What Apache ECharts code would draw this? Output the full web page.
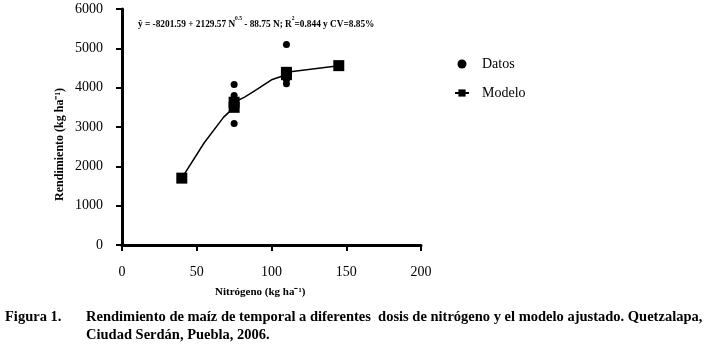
<!DOCTYPE html>
<html>
<head>
<meta charset="utf-8">
<script src="https://cdn.jsdelivr.net/npm/echarts@6/dist/echarts.min.js"></script>
<style>
  html, body { margin: 0; padding: 0; background: #fff; }
  #chart { width: 710px; height: 345px; }
</style>
</head>
<body>
<div id="chart"></div>
<script>
const datosN = [75, 75, 75, 75, 75, 110, 110, 110, 110, 145]
const datosY = [4080, 3800, 3090, 3600, 3500, 5100, 4100, 4200, 4300, 4570]

// fitted model curve (Modelo); squares only where marked
const modeloN = [40, 55, 68, 75, 75, 82, 90, 100, 110, 110, 145]
const modeloY = [1700, 2600, 3250, 3500, 3630, 3760, 3950, 4200, 4330, 4390, 4560]
const modeloSquare = [true, false, false, true, true, false, false, false, true, true, true]

const xTicks = { min: 0, max: 200, interval: 50 }
const yTicks = { min: 0, max: 6000, interval: 1000 }

const SERIF = '"Liberation Serif", "Times New Roman", serif'

const chart = echarts.init(document.getElementById('chart'))

const axisCommon = {
  axisLine: { show: true, onZero: false, lineStyle: { color: '#000', width: 3 } },
  axisTick: { show: true, inside: false, length: 6, lineStyle: { color: '#000', width: 2 } },
  axisLabel: { color: '#000', fontFamily: SERIF, fontSize: 14, formatter: (v) => String(v) },
  splitLine: { show: false },
}

chart.setOption({
  animation: false,
  backgroundColor: '#fff',
  textStyle: { fontFamily: SERIF, color: '#000' },
  grid: { left: 122, right: 289, top: 9, bottom: 100 },
  legend: {
    orient: 'vertical',
    left: 449,
    top: 52,
    itemGap: 15,
    itemWidth: 14,
    itemHeight: 9,
    textStyle: { fontFamily: SERIF, fontSize: 14, color: '#000', padding: [0, 0, 0, 8] },
    data: [
      { name: 'Datos', icon: 'circle' },
      { name: 'Modelo' },
    ],
  },
  xAxis: {
    type: 'value',
    ...xTicks,
    ...axisCommon,
    axisLabel: { ...axisCommon.axisLabel, margin: 20 },
  },
  yAxis: {
    type: 'value',
    ...yTicks,
    ...axisCommon,
    axisLabel: { ...axisCommon.axisLabel, margin: 19 },
  },
  series: [
    {
      name: 'Modelo',
      type: 'line',
      z: 3,
      symbol: 'rect',
      symbolSize: 11,
      showAllSymbol: true,
      lineStyle: { color: '#000', width: 1.5 },
      itemStyle: { color: '#000' },
      data: modeloN.map((n, i) => ({
        value: [n, modeloY[i]],
        symbol: modeloSquare[i] ? 'rect' : 'none',
      })),
    },
    {
      name: 'Datos',
      type: 'scatter',
      z: 2,
      symbol: 'circle',
      symbolSize: 7,
      itemStyle: { color: '#000', opacity: 1 },
      data: datosN.map((n, i) => [n, datosY[i]]),
    },
  ],
  graphic: [
    {
      type: 'text', left: 138, top: 16,
      style: {
        text: '{b|ŷ = -8201.59 + 2129.57 N}{s|0.5}{b| - 88.75 N; R}{s|2}{b|=0.844 y CV=8.85%}',
        rich: {
          b: { fontFamily: SERIF, fontWeight: 'bold', fontSize: 9.3, lineHeight: 13, verticalAlign: 'bottom', fill: '#000' },
          s: { fontFamily: SERIF, fontWeight: 'bold', fontSize: 5.5, lineHeight: 13, verticalAlign: 'top', fill: '#000' },
        },
      },
    },
    {
      type: 'text', left: 54, top: 88,
      rotation: Math.PI / 2,
      style: {
        text: 'Rendimiento (kg ha⁻¹)',
        fontFamily: SERIF, fontWeight: 'bold', fontSize: 12, fill: '#000',
      },
    },
    {
      type: 'text', left: 215, top: 287,
      style: {
        text: 'Nitrógeno (kg ha⁻¹)',
        fontFamily: SERIF, fontWeight: 'bold', fontSize: 11, fill: '#000',
      },
    },
    {
      type: 'text', left: 5, top: 310,
      style: { text: 'Figura 1.', fontFamily: SERIF, fontWeight: 'bold', fontSize: 14.5, fill: '#000' },
    },
    {
      type: 'text', left: 86, top: 310,
      style: {
        text: 'Rendimiento de maíz de temporal a diferentes  dosis de nitrógeno y el modelo ajustado. Quetzalapa,',
        fontFamily: SERIF, fontWeight: 'bold', fontSize: 14.5, fill: '#000',
      },
    },
    {
      type: 'text', left: 86, top: 328,
      style: { text: 'Ciudad Serdán, Puebla, 2006.', fontFamily: SERIF, fontWeight: 'bold', fontSize: 14.5, fill: '#000' },
    },
  ],
})
</script>
</body>
</html>
